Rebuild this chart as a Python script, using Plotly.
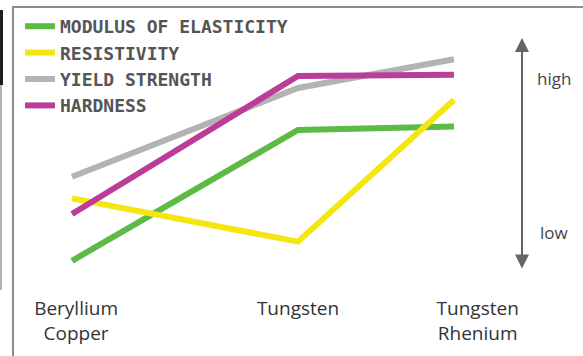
import plotly.graph_objects as go

# Data (qualitative scale, 0 = low ... 10 = high)
categories = ["Beryllium<br>Copper", "Tungsten", "Tungsten<br>Rhenium"]
cat_x = [0.0, 1.0, 1.69]          # where the series points sit
label_x = [0.018, 1.0, 1.795]     # where the category labels sit
series_names = ["MODULUS OF ELASTICITY", "RESISTIVITY", "YIELD STRENGTH", "HARDNESS"]
modulus = [0.8, 6.25, 6.4]
resistivity = [3.4, 1.6, 7.5]
yield_strength = [4.3, 8.0, 9.2]
hardness = [2.75, 8.5, 8.55]
colors = ["#5cba45", "#f5e612", "#b3b3b3", "#bc3c99"]

W, H = 583, 356
PLOT_H = 290
fig = go.Figure()
for name, vals, col in zip(series_names, [modulus, resistivity, yield_strength, hardness], colors):
    fig.add_trace(go.Scatter(x=cat_x, y=vals, mode="lines", name=name,
                             line=dict(color=col, width=6)))

# axes: 226 px per x unit, 24 px per y unit
x0 = -72 / 226
x1 = (W - 72) / 226
y_top = 280 / 24
y_bot = (280 - PLOT_H) / 24
fig.update_xaxes(range=[x0, x1], tickvals=label_x, ticktext=categories,
                 showgrid=False, zeroline=False, showline=False, ticks="",
                 ticklabelstandoff=5,
                 tickfont=dict(family="Open Sans", size=19, color="#333333"))
fig.update_yaxes(range=[y_bot, y_top], showgrid=False, zeroline=False,
                 showline=False, showticklabels=False)

# frame lines
def py(px):
    return (PLOT_H - px) / PLOT_H
fig.add_shape(type="path", xref="paper", yref="paper",
              path=f"M {13/W},{py(H)} L {13/W},{py(7)} L 1.0,{py(7)}",
              line=dict(color="#8c8c8c", width=2))
fig.add_shape(type="rect", xref="paper", yref="paper",
              x0=0, x1=3/W, y0=py(85), y1=py(10), fillcolor="#1e1e1e", line_width=0)
fig.add_shape(type="line", xref="paper", yref="paper",
              x0=1/W, x1=1/W, y0=py(290), y1=py(85), line=dict(color="#9a9a9a", width=1.5))

# high/low arrow
ax_x = (522 - 72) / 226
fig.add_annotation(x=ax_x, y=(280 - 38) / 24, ax=ax_x, ay=(280 - 270) / 24,
                   xref="x", yref="y", axref="x", ayref="y", text="",
                   showarrow=True, arrowhead=2, arrowside="end+start", arrowsize=1.4,
                   arrowwidth=2, arrowcolor="#666666")
for txt, ypx in [("high", 78), ("low", 232)]:
    fig.add_annotation(x=(554 - 72) / 226, y=(280 - ypx) / 24, xref="x", yref="y",
                       text=txt, showarrow=False,
                       font=dict(family="Open Sans", size=17, color="#444444"))

fig.update_layout(
    width=W, height=H,
    margin=dict(l=0, r=0, t=0, b=H - PLOT_H),
    plot_bgcolor="white", paper_bgcolor="white",
    showlegend=True,
    legend=dict(x=20 / W, y=py(8), xanchor="left", yanchor="top",
                bgcolor="rgba(0,0,0,0)", borderwidth=0,
                font=dict(family="DejaVu Sans Mono", size=18, color="#555555", weight="bold"),
                itemwidth=30),
)
fig.write_html("out.html")
